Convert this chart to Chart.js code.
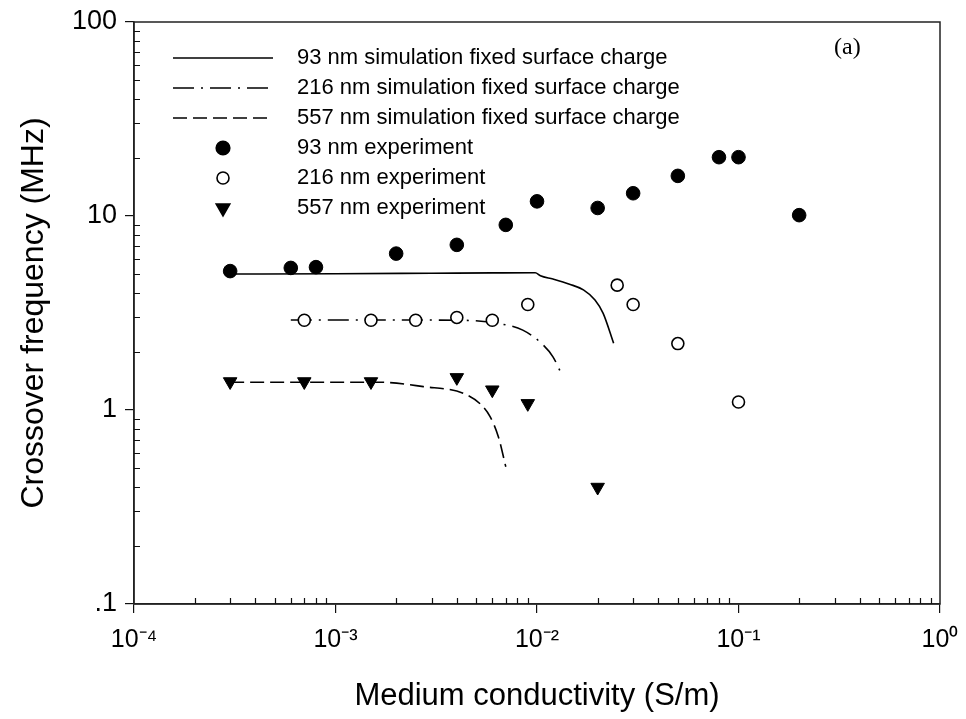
<!DOCTYPE html>
<html>
<head>
<meta charset="utf-8">
<script src="https://cdn.jsdelivr.net/npm/chart.js@4/dist/chart.umd.min.js"></script>
<style>
  html, body { margin: 0; padding: 0; background: #fff; }
  #wrap { width: 966px; height: 719px; }
</style>
</head>
<body>
<div id="wrap"><canvas id="c" width="966" height="719"></canvas></div>
<script>
// ---------- data ----------
const sim93X  = [3e-4, 1e-3, 3e-3, 6e-3, 9.8e-3, 0.0104, 0.012, 0.0145, 0.017, 0.0194, 0.0213, 0.024];
const sim93Y  = [5.02, 5.04, 5.07, 5.09, 5.1, 4.92, 4.73, 4.45, 4.16, 3.69, 3.15, 2.21];

const sim216X = [6e-4, 1e-3, 2e-3, 4.3e-3, 6.3e-3, 8.5e-3, 0.01075, 0.012, 0.0134];
const sim216Y = [2.91, 2.91, 2.91, 2.9, 2.8, 2.58, 2.16, 1.88, 1.49];

const sim557X = [3e-4, 1e-3, 1.66e-3, 2.73e-3, 4.3e-3, 5.2e-3, 5.85e-3, 6.43e-3, 7.0e-3];
const sim557Y = [1.39, 1.39, 1.39, 1.32, 1.22, 1.08, 0.924, 0.728, 0.51];

const exp93X  = [3e-4, 6e-4, 8e-4, 2e-3, 4e-3, 7e-3, 1e-2, 2e-2, 3e-2, 5e-2, 8e-2, 1e-1, 2e-1];
const exp93Y  = [5.2, 5.4, 5.45, 6.4, 7.1, 9.0, 11.9, 11.0, 13.1, 16.1, 20.1, 20.1, 10.1];

const exp216X = [7e-4, 1.5e-3, 2.5e-3, 4e-3, 6e-3, 9e-3, 2.5e-2, 3e-2, 5e-2, 1e-1];
const exp216Y = [2.9, 2.9, 2.9, 3.0, 2.9, 3.5, 4.4, 3.5, 2.2, 1.1];

const exp557X = [3e-4, 7e-4, 1.5e-3, 4e-3, 6e-3, 9e-3, 2e-2];
const exp557Y = [1.4, 1.4, 1.4, 1.47, 1.27, 1.08, 0.4];

const seriesLabels = [
  '93 nm simulation fixed surface charge',
  '216 nm simulation fixed surface charge',
  '557 nm simulation fixed surface charge',
  '93 nm experiment',
  '216 nm experiment',
  '557 nm experiment'
];

const xTickValues = [1e-4, 1e-3, 1e-2, 1e-1, 1];
const xTickLabels = ['10⁻⁴', '10⁻³', '10⁻²', '10⁻¹', '10⁰'];
const yTickValues = [0.1, 1, 10, 100];
const yTickLabels = ['.1', '1', '10', '100'];

const xTitle = 'Medium conductivity (S/m)';
const yTitle = 'Crossover frequency (MHz)';
const panelTag = '(a)';

// ---------- helpers ----------
const pts = (xs, ys) => xs.map((x, i) => ({ x: x, y: ys[i] }));
const INK = '#000';
const FONT = "'Liberation Sans', Arial, sans-serif";

const lineDs = (label, xs, ys, dash) => ({
  type: 'scatter', label, data: pts(xs, ys), showLine: true,
  borderColor: INK, backgroundColor: INK, borderWidth: 1.6, borderDash: dash,
  pointRadius: 0, pointHoverRadius: 0, cubicInterpolationMode: 'monotone', order: 2
});
const pointDs = (label, xs, ys, style, filled, radius, rotation) => ({
  type: 'scatter', label, data: pts(xs, ys), showLine: false,
  pointStyle: style, pointRotation: rotation || 0, pointRadius: radius, pointHoverRadius: radius,
  borderColor: INK, backgroundColor: filled ? INK : '#fff', borderWidth: filled ? 1 : 1.6, order: 1
});

const datasets = [
  lineDs(seriesLabels[0], sim93X, sim93Y, []),
  lineDs(seriesLabels[1], sim216X, sim216Y, [21, 7, 2, 7]),
  lineDs(seriesLabels[2], sim557X, sim557Y, [14, 6]),
  pointDs(seriesLabels[3], exp93X, exp93Y, 'circle', true, 6.8),
  pointDs(seriesLabels[4], exp216X, exp216Y, 'circle', false, 6),
  pointDs(seriesLabels[5], exp557X, exp557Y, 'triangle', true, 7.8, 180)
];

// ---------- plugins ----------
const whiteBg = {
  id: 'whiteBg',
  beforeDraw(chart) {
    const ctx = chart.ctx; ctx.save(); ctx.fillStyle = '#fff';
    ctx.fillRect(0, 0, chart.width, chart.height); ctx.restore();
  }
};

const frameAndMinor = {
  id: 'frameAndMinor',
  afterDraw(chart) {
    const { ctx, chartArea: a, scales } = chart;
    ctx.save();
    ctx.strokeStyle = '#222'; ctx.lineWidth = 1.5;
    ctx.strokeRect(a.left, a.top, a.right - a.left, a.bottom - a.top);
    ctx.lineWidth = 1.2; ctx.strokeStyle = '#111';
    ctx.beginPath();
    for (let d = -4; d <= -1; d++) {
      for (let k = 2; k <= 9; k++) {
        const px = Math.round(scales.x.getPixelForValue(k * Math.pow(10, d))) + 0.5;
        ctx.moveTo(px, a.bottom); ctx.lineTo(px, a.bottom - 6);
      }
    }
    for (let d = -1; d <= 1; d++) {
      for (let k = 2; k <= 9; k++) {
        const py = Math.round(scales.y.getPixelForValue(k * Math.pow(10, d))) + 0.5;
        ctx.moveTo(a.left, py); ctx.lineTo(a.left + 6, py);
      }
    }
    ctx.stroke();
    // panel tag
    ctx.fillStyle = INK;
    ctx.font = "24px 'Liberation Serif', 'Times New Roman', serif";
    ctx.textAlign = 'left'; ctx.textBaseline = 'alphabetic';
    ctx.fillText(panelTag, a.left + 700, a.top + 32);
    ctx.restore();
  }
};

const insideLegend = {
  id: 'insideLegend',
  afterDraw(chart) {
    const { ctx, chartArea: a } = chart;
    const x0 = a.left + 39, x1 = a.left + 139, xm = (x0 + x1) / 2, xt = a.left + 163;
    const rowH = 30, y0 = a.top + 36;
    ctx.save();
    ctx.font = '22px ' + FONT;
    ctx.textBaseline = 'middle'; ctx.textAlign = 'left';
    chart.data.datasets.forEach((ds, i) => {
      const y = y0 + i * rowH;
      ctx.strokeStyle = ds.borderColor; ctx.fillStyle = ds.backgroundColor;
      if (ds.showLine) {
        ctx.lineWidth = ds.borderWidth;
        ctx.setLineDash(ds.borderDash || []);
        ctx.beginPath(); ctx.moveTo(x0, y); ctx.lineTo(x1, y); ctx.stroke();
        ctx.setLineDash([]);
      } else {
        Chart.helpers.drawPoint(ctx, {
          pointStyle: ds.pointStyle, rotation: ds.pointRotation, radius: ds.pointRadius,
          borderWidth: ds.borderWidth
        }, xm, y);
      }
      ctx.fillStyle = INK;
      ctx.fillText(ds.label, xt, y);
    });
    ctx.restore();
  }
};

// ---------- chart ----------
new Chart(document.getElementById('c'), {
  type: 'scatter',
  data: { datasets },
  plugins: [whiteBg, frameAndMinor, insideLegend],
  options: {
    responsive: false, animation: false, devicePixelRatio: 1,
    layout: { padding: { left: 0, top: 22, right: 26, bottom: 0 } },
    plugins: { legend: { display: false }, tooltip: { enabled: false } },
    scales: {
      x: {
        type: 'logarithmic', position: 'bottom', min: 1e-4, max: 1,
        afterFit(s) { s.height = 115; s.paddingLeft = 0; s.paddingRight = 0; },
        afterBuildTicks(s) { s.ticks = xTickValues.map(v => ({ value: v })); },
        ticks: {
          autoSkip: false, maxRotation: 0, color: INK, padding: 12,
          font: { family: FONT, size: 25 },
          callback: (v) => { const i = xTickValues.findIndex(t => Math.abs(Math.log10(t) - Math.log10(v)) < 1e-6); return i >= 0 ? xTickLabels[i] : ''; }
        },
        grid: { display: true, drawOnChartArea: false, drawTicks: true, tickLength: 9, color: '#111', lineWidth: 1.2 },
        border: { display: true, color: '#222', width: 1.5 },
        title: { display: true, text: xTitle, color: INK, font: { family: FONT, size: 31 }, padding: { top: 0, bottom: 4 } }
      },
      y: {
        type: 'logarithmic', position: 'left', min: 0.1, max: 100,
        afterFit(s) { s.width = 134; s.paddingTop = 0; s.paddingBottom = 0; },
        afterBuildTicks(s) { s.ticks = yTickValues.map(v => ({ value: v })); },
        ticks: {
          autoSkip: false, color: INK, padding: 8,
          font: { family: FONT, size: 27 },
          callback: (v) => { const i = yTickValues.findIndex(t => Math.abs(Math.log10(t) - Math.log10(v)) < 1e-6); return i >= 0 ? yTickLabels[i] : ''; }
        },
        grid: { display: true, drawOnChartArea: false, drawTicks: true, tickLength: 9, color: '#111', lineWidth: 1.2 },
        border: { display: true, color: '#222', width: 1.5 },
        title: { display: true, text: yTitle, color: INK, font: { family: FONT, size: 32 }, padding: { top: 15, bottom: 0 } }
      }
    }
  }
});
</script>
</body>
</html>
